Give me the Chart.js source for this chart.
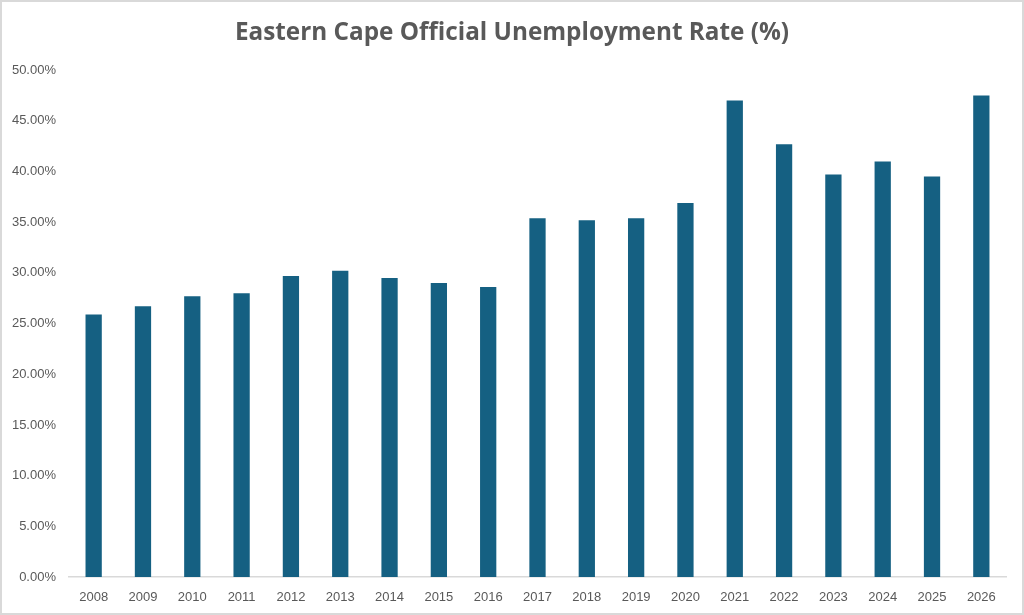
<!DOCTYPE html>
<html>
<head>
<meta charset="utf-8">
<script src="https://cdn.jsdelivr.net/npm/chart.js@4/dist/chart.umd.min.js"></script>
<style>
  html, body { margin: 0; padding: 0; background: #fff; }
  #wrap { width: 1024px; height: 615px; }
</style>
</head>
<body>
<div id="wrap"><canvas id="chart" width="1024" height="615"></canvas></div>
<script>
const years = ["2008", "2009", "2010", "2011", "2012", "2013", "2014", "2015", "2016", "2017",
  "2018", "2019", "2020", "2021", "2022", "2023", "2024", "2025", "2026"];
const unemploymentRate = [25.9, 26.7, 27.7, 28.0, 29.7, 30.2, 29.5, 29.0, 28.6, 35.4,
  35.2, 35.4, 36.9, 47.0, 42.7, 39.7, 41.0, 39.5, 47.5];
const yTicks = [0, 5, 10, 15, 20, 25, 30, 35, 40, 45, 50];

const GREY = "#595959";

const frameBorder = {
  id: "frameBorder",
  afterDraw(chart) {
    const { ctx, width, height } = chart;
    ctx.save();
    ctx.strokeStyle = "#d9d9d9";
    ctx.lineWidth = 2;
    ctx.strokeRect(1, 1, width - 2, height - 2);
    ctx.restore();
  },
};

new Chart(document.getElementById("chart"), {
  type: "bar",
  data: {
    labels: years,
    datasets: [
      {
        label: "Unemployment rate",
        data: unemploymentRate,
        backgroundColor: "#156082",
        barPercentage: 0.33,
        categoryPercentage: 1,
      },
    ],
  },
  options: {
    responsive: false,
    animation: false,
    devicePixelRatio: 1,
    layout: {
      padding: { left: 9, right: 9, top: 0, bottom: 0 },
    },
    scales: {
      x: {
        grid: { display: false },
        border: { color: "#d9d9d9", width: 1.5 },
        ticks: {
          color: GREY,
          padding: 5,
          maxRotation: 0,
          font: { family: "Liberation Sans", size: 13 },
        },
        afterFit(scale) {
          scale.height = 38;
        },
      },
      y: {
        min: 0,
        max: 50,
        afterBuildTicks(scale) {
          scale.ticks = yTicks.map((v) => ({ value: v }));
        },
        grid: { display: false, drawTicks: false },
        border: { display: false },
        ticks: {
          color: GREY,
          padding: 13,
          font: { family: "Liberation Sans", size: 13 },
          callback: (value) => `${value.toFixed(2)}%`,
        },
        afterFit(scale) {
          scale.width = 60;
        },
      },
      // empty strip on the right so the plot ends where Excel's does
      yRight: {
        position: "right",
        min: 0,
        max: 50,
        grid: { display: false, drawTicks: false },
        border: { display: false },
        ticks: { display: false },
        afterFit(scale) {
          scale.width = 9;
        },
      },
    },
    plugins: {
      legend: { display: false },
      tooltip: { enabled: false },
      title: {
        display: true,
        text: "Eastern Cape Official Unemployment Rate (%)",
        color: GREY,
        font: { family: "Open Sans", size: 24.3, weight: "bold" },
        padding: { top: 18, bottom: 23 },
      },
    },
  },
  plugins: [frameBorder],
});
</script>
</body>
</html>
